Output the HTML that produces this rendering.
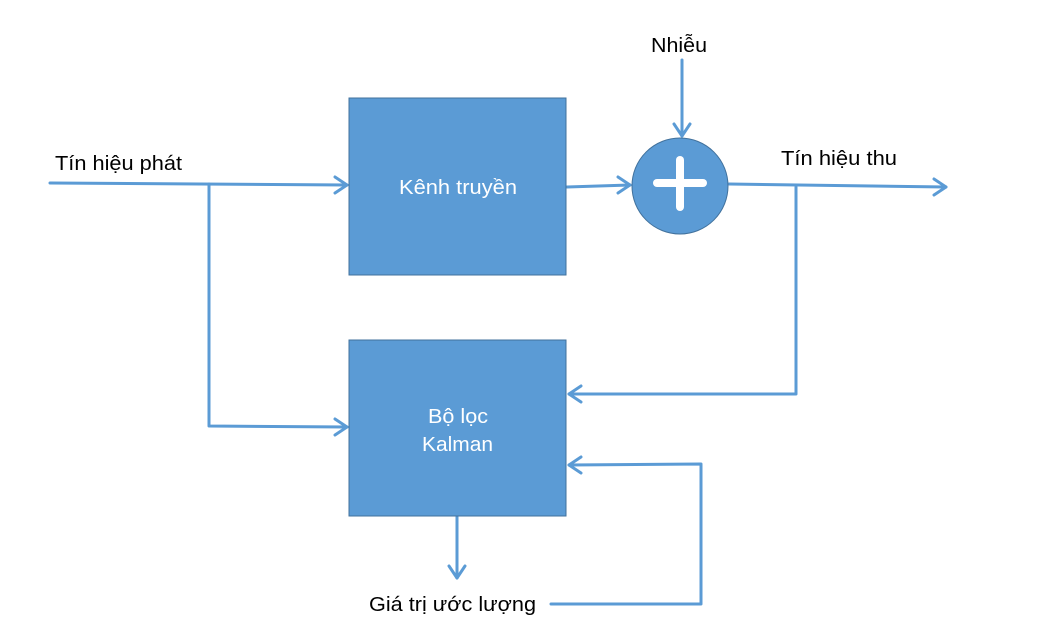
<!DOCTYPE html>
<html><head><meta charset="utf-8"><style>
body{margin:0;background:#fff;}
svg text{font-family:"Liberation Sans",sans-serif;font-size:20px;}
</style></head><body>
<svg width="1040" height="626" xmlns="http://www.w3.org/2000/svg">
<g stroke="#5b9bd5" stroke-width="3" fill="none" stroke-linecap="round" stroke-linejoin="round">
<line x1="50" y1="183" x2="347" y2="185"/><polyline points="335,177 347,185 335,193"/>
<polyline points="209,184 209,426 347,427"/><polyline points="335,419 347,427 335,435"/>
<line x1="567" y1="187" x2="630" y2="185"/><polyline points="618,177 630,185 618,193"/>
<line x1="682" y1="60" x2="682" y2="136"/><polyline points="674,124 682,136 690,124"/>
<line x1="729" y1="184" x2="946" y2="187"/><polyline points="934,179 946,187 934,195"/>
<polyline points="796,187 796,394 569,394"/><polyline points="581,386 569,394 581,402"/>
<polyline points="551,604 701,604 701,464 569,465"/><polyline points="581,457 569,465 581,473"/>
<line x1="457" y1="517" x2="457" y2="578"/><polyline points="449,566 457,578 465,566"/>
</g>
<rect x="349" y="98" width="217" height="177" fill="#5b9bd5" stroke="#41719c" stroke-width="1"/>
<rect x="349" y="340" width="217" height="176" fill="#5b9bd5" stroke="#41719c" stroke-width="1"/>
<circle cx="680" cy="186" r="48" fill="#5b9bd5" stroke="#41719c" stroke-width="1"/>
<line x1="657" y1="183" x2="703" y2="183" stroke="#fff" stroke-width="8" stroke-linecap="round"/>
<line x1="680" y1="160" x2="680" y2="207" stroke="#fff" stroke-width="8" stroke-linecap="round"/>
<text x="399" y="194" fill="#fff" textLength="118" lengthAdjust="spacingAndGlyphs">Kênh truyền</text>
<text x="428" y="423" fill="#fff" textLength="60" lengthAdjust="spacingAndGlyphs">Bộ lọc</text>
<text x="422" y="451" fill="#fff" textLength="71" lengthAdjust="spacingAndGlyphs">Kalman</text>
<text x="55" y="170" fill="#000" textLength="127" lengthAdjust="spacingAndGlyphs">Tín hiệu phát</text>
<text x="651" y="52" fill="#000" textLength="56" lengthAdjust="spacingAndGlyphs">Nhiễu</text>
<text x="781" y="165" fill="#000" textLength="116" lengthAdjust="spacingAndGlyphs">Tín hiệu thu</text>
<text x="369" y="611" fill="#000" textLength="167" lengthAdjust="spacingAndGlyphs">Giá trị ước lượng</text>
</svg>
</body></html>
